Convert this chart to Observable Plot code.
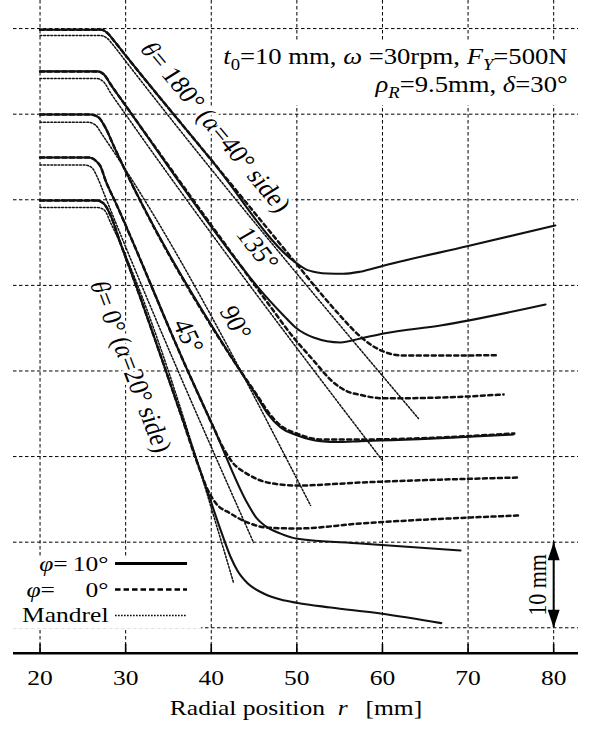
<!DOCTYPE html>
<html><head><meta charset="utf-8">
<script src="https://cdn.jsdelivr.net/npm/d3@7"></script>
<script src="https://cdn.jsdelivr.net/npm/@observablehq/plot@0.6"></script>
<style>
html,body{margin:0;padding:0;background:#fff;}
#chart svg{display:block;}
</style></head><body><div id="chart"></div>
<script>
// ---------------- data (x = radial position r [mm], y = profile height [mm]) ----------------
const xTicks = [20, 30, 40, 50, 60, 70, 80];
const yGrid = [0, 10, 20, 30, 40, 50, 60, 70];

// theta = 180 deg
const solid180 = [[20,69.86],[27.2,69.86],[27.9,69.45],[28.7,68.5],[30,66.86],[40,54.66],[49.8,42.7],[51.0,41.9],[52.4,41.5],[53.6,41.38],[55.4,41.35],[57.4,41.6],[60.1,42.3],[70,44.6],[80.2,47.0]];
const dashed180 = [[20,69.86],[27.2,69.86],[27.9,69.45],[28.7,68.5],[30,66.86],[40,54.66],[50,42.46],[53.1,38.7],[55.2,36.3],[57.0,34.4],[58.9,32.9],[60.6,32.1],[62.5,31.8],[66.8,31.8],[73.6,31.85]];
const mandrel180 = [[20,69.19],[27.0,69.19],[27.8,68.9],[28.6,68.0],[30,66.19],[64.2,24.45]];
// theta = 135 deg
const solid135 = [[20,65.0],[26.7,65.0],[27.5,64.6],[28.3,63.4],[30,61.0],[43.4,42.35],[45.76,39.41],[48.45,36.48],[49.85,35.08],[51.95,33.91],[55.1,33.33],[57.44,33.8],[60.13,34.38],[66.78,35.32],[79.05,37.77]];
const dashed135 = [[20,65.0],[26.7,65.0],[27.5,64.6],[28.3,63.4],[30,61.0],[43.4,42.35],[47.0,37.4],[49.3,34.3],[51.95,31.22],[54.29,28.65],[55.93,27.6],[57.44,27.2],[60.13,26.8],[67,26.9],[74.15,27.26]];
const mandrel135 = [[20,64.17],[26.6,64.17],[27.4,63.8],[28.3,62.4],[30,59.97],[60.0,19.54]];
// theta = 90 deg
const solid90 = [[20,59.96],[25.9,59.96],[26.8,59.65],[27.6,58.5],[28.6,56.3],[42.6,31.22],[45.41,26.9],[46.58,25.03],[48.1,23.4],[50.08,22.46],[52.77,21.8],[55,21.7],[57.44,21.8],[59.78,21.87],[75.3,22.58]];
const dashed90 = [[20,59.96],[25.9,59.96],[26.8,59.65],[27.6,58.5],[28.6,56.3],[42.6,31.22],[45.5,26.95],[46.7,25.15],[48.2,23.55],[50.1,22.65],[52.8,22.0],[57.44,22.0],[75.4,22.7]];
const mandrel90 = [[20,59.05],[25.6,59.05],[26.5,58.7],[27.3,57.55],[51.6,14.29]];
// theta = 45 deg
const solid45 = [[20,54.94],[25.67,54.94],[26.6,54.47],[27.07,53.88],[27.65,52.26],[28.82,49.69],[37.23,30.06],[40.27,23.4],[44.24,14.52],[45.3,12.8],[46.3,11.9],[48.1,11.0],[50.08,10.4],[57.44,9.85],[69.12,9.03]];
const dashed45 = [[20,54.94],[25.67,54.94],[26.6,54.47],[27.07,53.88],[27.65,52.26],[28.82,49.69],[37.23,30.06],[40.27,23.4],[41.3,21.2],[42.5,19.3],[44.24,17.95],[46.93,16.9],[50.08,16.62],[57.44,16.97],[76.0,17.56]];
const mandrel45 = [[20,54.07],[25.2,54.07],[26.0,53.8],[26.8,52.4],[27.5,50.65],[44.94,9.96]];
// theta = 0 deg
const solid0 = [[20,49.92],[26.6,49.92],[27.4,49.6],[28.24,48.18],[29.4,44.91],[30.57,41.74],[36.41,25.04],[39.92,14.87],[41.1,11.4],[42.25,8.3],[43.1,6.6],[44.24,5.2],[46.11,4.0],[48.1,3.3],[50.08,2.9],[53.94,2.37],[59.78,1.67],[66.87,0.54]];
const dashed0 = [[20,49.92],[26.6,49.92],[27.4,49.6],[28.24,48.18],[29.4,44.91],[30.57,41.74],[36.41,25.04],[38.5,18.9],[39.6,16.1],[40.5,14.6],[42.25,13.35],[44.24,12.3],[46.58,11.7],[50.08,11.6],[57.44,12.18],[75.9,13.12]];
const mandrel0 = [[20,49.1],[26.7,49.1],[27.5,48.8],[28.3,47.2],[42.6,5.29]];

const groups = [
  {theta: 180, solid: solid180, dashed: dashed180, mandrel: mandrel180},
  {theta: 135, solid: solid135, dashed: dashed135, mandrel: mandrel135},
  {theta: 90, solid: solid90, dashed: dashed90, mandrel: mandrel90},
  {theta: 45, solid: solid45, dashed: dashed45, mandrel: mandrel45},
  {theta: 0, solid: solid0, dashed: dashed0, mandrel: mandrel0}
];

// annotations
const curveLabels = [
  {text: "θ= 180° (α=40° side)", x: 40.5, y: 58.5, angle: 50},
  {text: "135°", x: 45.4, y: 44.3, angle: 52},
  {text: "90°", x: 42.84, y: 35.65, angle: 60},
  {text: "45°", x: 37.3, y: 34.1, angle: 64},
  {text: "θ= 0° (α=20° side)", x: 30.6, y: 30.5, angle: 69}
];
const infoLines = [
  {text: "t0=10 mm, ω =30rpm, FY=500N", y: 66.68},
  {text: "ρR=9.5mm, δ=30°", y: 63.4}
];
const legendRows = [
  {label: "φ = 10°", kind: "solid", y: 7.51},
  {label: "φ = 0°", kind: "dashed", y: 4.47},
  {label: "Mandrel", kind: "mandrel", y: 1.44}
];
const xLabel = "Radial position r [mm]";
const scaleLabel = "10 mm";

// ---------------- layout ----------------
const S = 1.16; // horizontal stretch of the lettering in the reference
const FONT = "'Liberation Serif','Times New Roman',serif";
const X0 = 16.9, X1 = 82.9, Y0 = -2.97, Y1 = 73.28;
const boxes = [
  {x1: 16.9, x2: 38.87, y1: -0.15, y2: 8.22},
  {x1: 41.3, x2: 82.55, y1: 61.0, y2: 68.4}
];
const legendLayout = {textX: 28.0, lx1: 28.82, lx2: 37.23};
const infoX = 81.63;
const scaleBar = {x: 80, y1: 0, y2: 10, textX: 78.12};

const rows = [];
for (const g of groups) for (const kind of ["solid", "dashed", "mandrel"])
  g[kind].forEach(([x, y]) => rows.push({theta: g.theta, kind, id: g.theta + kind, x, y}));

const RICH = {
  "θ= 180° (α=40° side)": [["θ","i"],["= 180° (",""],["α","i"],["=40° side)",""]],
  "θ= 0° (α=20° side)": [["θ","i"],["= 0° (",""],["α","i"],["=20° side)",""]],
  "t0=10 mm, ω =30rpm, FY=500N": [["t","i"],["0","sub"],["=10 mm, ",""],["ω","i"],[" =30rpm, ",""],["F","i"],["Y","isub"],["=500N",""]],
  "ρR=9.5mm, δ=30°": [["ρ","i"],["R","isub"],["=9.5mm, ",""],["δ","i"],["=30°",""]],
  "φ = 10°": [["φ","i"],["=\u200910°",""]],
  "φ = 0°": [["φ","i"],["=\u2009\u2007\u20070°",""]],
  "Radial position r [mm]": [["Radial position\u2002",""],["r","i"],["\u2002\u2009[mm]",""]]
};

const arrowHead = {draw(ctx, size) { const s = Math.sqrt(size / Math.PI); ctx.moveTo(0, 0); ctx.lineTo(-s, 3 * s); ctx.lineTo(s, 3 * s); ctx.closePath(); }};
const rot = (a) => Math.atan(S * Math.tan(a * Math.PI / 180)) * 180 / Math.PI;
const ink = "#111";
const grid = {stroke: "#000", strokeWidth: 1, strokeDasharray: "3.5,2.5"};
const FS = 22;

const chart = Plot.plot({
  width: 592, height: 733,
  marginTop: 0, marginRight: 14, marginBottom: 80.3, marginLeft: 13,
  x: {domain: [X0, X1], axis: null},
  y: {domain: [Y0, Y1], axis: null},
  style: {fontFamily: FONT, background: "#fff", overflow: "visible", color: "#000"},
  marks: [
    Plot.ruleX(xTicks, grid),
    Plot.ruleY(yGrid, grid),
    Plot.rect(boxes, {x1: "x1", x2: "x2", y1: "y1", y2: "y2", fill: "#fff"}),
    Plot.text(curveLabels, {x: "x", y: "y", text: "text", rotate: d => rot(d.angle), fontSize: 24, fill: "#000", stroke: "#fff", strokeWidth: 6, paintOrder: "stroke"}),
    Plot.line(rows.filter(d => d.kind === "mandrel"), {x: "x", y: "y", z: "id", stroke: ink, strokeWidth: 1.5, strokeDasharray: "1.8,1.8", curve: "monotone-x"}),
    Plot.line(rows.filter(d => d.kind === "solid"), {x: "x", y: "y", z: "id", stroke: ink, strokeWidth: 2.1, curve: "monotone-x"}),
    Plot.line(rows.filter(d => d.kind === "dashed"), {x: "x", y: "y", z: "id", stroke: ink, strokeWidth: 2.5, strokeDasharray: "4,3.5", curve: "monotone-x"}),
    Plot.text(infoLines, {x: infoX, y: "y", text: "text", textAnchor: "end", fontSize: 23}),
    Plot.text(legendRows, {x: legendLayout.textX, y: "y", text: "label", textAnchor: "end", fontSize: FS}),
    Plot.ruleY(legendRows.filter(d => d.kind === "solid"), {y: "y", x1: legendLayout.lx1, x2: legendLayout.lx2, stroke: "#000", strokeWidth: 3}),
    Plot.ruleY(legendRows.filter(d => d.kind === "dashed"), {y: "y", x1: legendLayout.lx1, x2: legendLayout.lx2, stroke: "#000", strokeWidth: 2.6, strokeDasharray: "5.5,3"}),
    Plot.ruleY(legendRows.filter(d => d.kind === "mandrel"), {y: "y", x1: legendLayout.lx1, x2: legendLayout.lx2, stroke: "#000", strokeWidth: 1.5, strokeDasharray: "1.6,1.4"}),
    Plot.ruleX([scaleBar], {x: "x", y1: "y1", y2: "y2", stroke: "#000", strokeWidth: 2}),
    Plot.dot([{x: scaleBar.x, y: scaleBar.y2, a: 0}, {x: scaleBar.x, y: scaleBar.y1, a: 180}], {x: "x", y: "y", rotate: "a", symbol: arrowHead, r: 6, fill: "#000"}),
    Plot.text([scaleBar], {x: "textX", y: d => (d.y1 + d.y2) / 2, text: () => scaleLabel, rotate: -90, fontSize: FS}),
    Plot.ruleY([Y0], {stroke: "#000", strokeWidth: 2.5}),
    Plot.ruleX(xTicks, {x: d => d, y1: Y0, y2: Y0 + 1.05, stroke: "#000", strokeWidth: 1.6}),
    Plot.text(xTicks, {x: d => d, y: Y0, dy: 25, text: d => String(d), fontSize: FS}),
    Plot.text([xLabel], {frameAnchor: "bottom", dy: 62, text: d => d, fontSize: FS})
  ]
});

function applyRich(svg) {
  svg.querySelectorAll("text").forEach(t => {
    const parts = RICH[t.textContent];
    if (!parts) return;
    t.textContent = "";
    let shifted = false;
    for (const [s, st] of parts) {
      const ts = document.createElementNS("http://www.w3.org/2000/svg", "tspan");
      ts.textContent = s;
      if (st.includes("i")) ts.setAttribute("font-style", "italic");
      if (st.includes("sub")) { ts.setAttribute("font-size", "70%"); ts.setAttribute("dy", "0.35em"); shifted = true; }
      else if (shifted) { ts.setAttribute("dy", "-0.245em"); shifted = false; }
      t.appendChild(ts);
    }
  });
}
function stretch(svg) {
  svg.querySelectorAll("text").forEach(t => {
    const tr = t.getAttribute("transform") || "";
    const m = tr.match(/^\s*translate\(([^)]*)\)(.*)$/);
    const x = +(t.getAttribute("x") || 0), y = +(t.getAttribute("y") || 0);
    if (m) {
      const rest = m[2].trim();
      if (!rest && (x || y)) {
        const [a, b] = m[1].split(/[ ,]+/).map(Number);
        t.removeAttribute("x"); t.removeAttribute("y");
        t.setAttribute("transform", `translate(${a + x},${b + y}) scale(${S},1)`);
      } else t.setAttribute("transform", `translate(${m[1]}) scale(${S},1) ${rest}`);
    } else {
      t.removeAttribute("x"); t.removeAttribute("y");
      t.setAttribute("transform", `translate(${x},${y}) scale(${S},1) ${tr}`);
    }
  });
}
applyRich(chart);
stretch(chart);
document.getElementById("chart").appendChild(chart);
</script>
</body></html>
